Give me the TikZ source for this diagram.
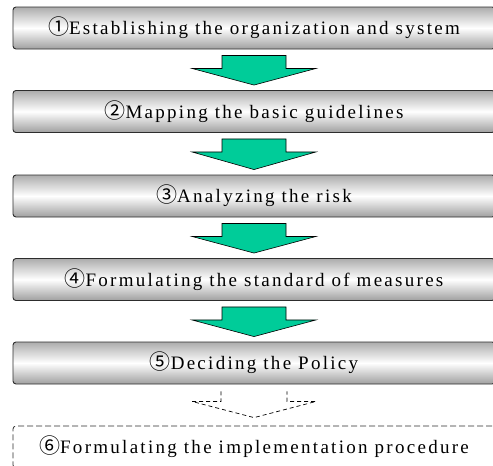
\documentclass[tikz,border=0pt]{standalone}
\usepackage{fontspec}
\setmainfont{Liberation Serif}[LetterSpace=12]
\newfontfamily\circfont{Noto Sans CJK JP}
\usetikzlibrary{positioning,calc}
\definecolor{flowgreen}{RGB}{0,204,153}
\definecolor{boxedge}{RGB}{45,45,45}
\newcommand{\stepno}[1]{{\circfont\fontsize{21}{22}\selectfont #1}}

\begin{document}
\begin{tikzpicture}[x=1pt,y=-1pt]
  \tikzstyle{stage}=[rectangle, rounded corners=3pt, draw=boxedge, line width=0.9pt,
top color=gray!65, bottom color=gray!75, middle color=white,
minimum width=482pt, minimum height=42pt, inner sep=0pt, font=\fontsize{19}{22}\selectfont]
  \tikzstyle{pending}=[rectangle, rounded corners=3pt, draw=boxedge, line width=0.8pt,
dash pattern=on 6pt off 3pt, fill=white,
minimum width=482pt, minimum height=42pt, inner sep=0pt, font=\fontsize{19}{22}\selectfont]
  \tikzstyle{flow}=[draw=black, line width=0.6pt, fill=flowgreen]
  \tikzstyle{maybe}=[draw=black, line width=0.7pt, dash pattern=on 4pt off 3pt]
  \useasboundingbox (0,0) rectangle (493,466);

  \node[stage] (S_1) at (254,28)  {\stepno{①}Establishing the organization and system};
  \node[stage] (S_2) at (254,111.5) {\stepno{②}Mapping the basic guidelines};
  \node[stage] (S_3) at (254,196) {\stepno{③}Analyzing the risk};
  \node[stage] (S_4) at (254,279.5) {\stepno{④}Formulating the standard of measures};
  \node[stage] (S_5) at (254,363) {\stepno{⑤}Deciding the Policy};
  \node[pending] (S_6) at (254,447) {\stepno{⑥}Formulating the implementation procedure};

  \foreach \a/\b in {S_1/S_2, S_2/S_3, S_3/S_4, S_4/S_5}
    \draw[flow] ($(\a.south)+(-32,6)$) -- ($(\a.south)+(-32,19)$) -- ($(\a.south)+(-62,19)$)
      -- ($(\b.north)+(0,-5)$) -- ($(\a.south)+(62,19)$) -- ($(\a.south)+(32,19)$)
      -- ($(\a.south)+(32,6)$) -- cycle;
  \draw[maybe] ($(S_5.south)+(-33,7)$) -- ($(S_5.south)+(-33,17)$) -- ($(S_5.south)+(-62,17)$)
    -- ($(S_6.north)+(0,-8)$) -- ($(S_5.south)+(62,17)$) -- ($(S_5.south)+(33,17)$)
    -- ($(S_5.south)+(33,7)$);
\end{tikzpicture}
\end{document}
